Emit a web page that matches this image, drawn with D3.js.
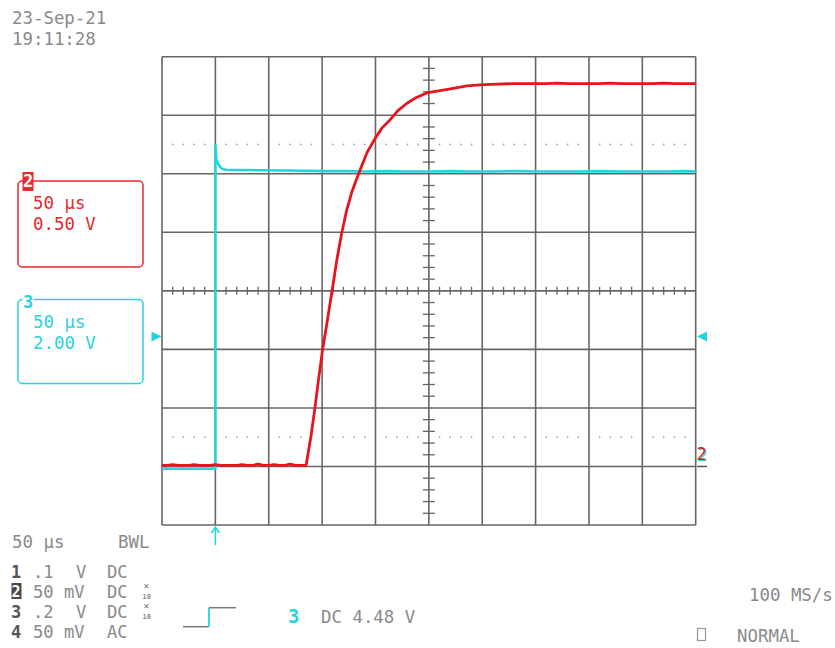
<!DOCTYPE html>
<html>
<head>
<meta charset="utf-8">
<script src="https://cdn.jsdelivr.net/npm/d3@7"></script>
<style>
  html, body { margin: 0; padding: 0; background: #fff; }
  svg { display: block; }
  text { font-family: "DejaVu Sans Mono", "Liberation Mono", monospace; }
</style>
</head>
<body>
<svg id="chart" width="835" height="648"></svg>
<script>
// ---------------- DATA ----------------
// Channel 2 (red), time in µs (trigger at 0), value in volts (0.50 V/div)
const ch2Time = [
  -50,-45,-40,-35,-30,-25,-20,-15,-10,-5,0,5,10,15,20,25,30,35,40,45,50,55,60,65,70,75,80,85,
  89.6,93.3,96.6,100.5,104.6,109.5,113.9,118.3,122.8,127.7,131.7,135.5,142,149.5,156,163.6,171,179.2,187.9,197.9,210.4,222.9,235.7,247.9,263.8,279,
  290,300,310,320,330,340,350,360,370,380,390,400,410,420,430,440,450
];
const ch2Volts = [
  0.01,0.01,0.015,0.01,0.01,0.01,0.015,0.01,0.01,0.01,0.015,0.01,0.01,0.01,0.01,0.015,0.01,0.01,0.02,0.01,0.01,0.015,0.01,0.01,0.02,0.01,0.01,0.01,
  0.26,0.50,0.74,1.00,1.23,1.51,1.77,1.99,2.18,2.34,2.44,2.53,2.68,2.80,2.89,2.96,3.04,3.10,3.15,3.19,3.21,3.23,3.25,3.26,3.265,3.27,
  3.27,3.27,3.27,3.275,3.27,3.27,3.27,3.27,3.275,3.27,3.27,3.27,3.27,3.275,3.27,3.27,3.27
];
// Channel 3 (cyan), 2.00 V/div
const ch3Time = [
  -50,-45,-40,-35,-30,-25,-20,-15,-10,-5,0,
  0,1,3,6,10,20,30,40,50,60,70,80,90,100,120,140,160,180,200,220,240,260,280,300,320,340,360,380,400,420,440,450
];
const ch3Volts = [
  -4.52,-4.51,-4.52,-4.52,-4.51,-4.52,-4.52,-4.52,-4.51,-4.52,-4.52,
  6.55,6.04,5.87,5.73,5.70,5.69,5.69,5.68,5.68,5.67,5.67,5.66,5.66,5.65,5.65,5.64,5.65,5.64,5.64,5.65,5.64,5.64,5.65,5.64,5.64,5.64,5.65,5.64,5.64,5.64,5.65,5.64
];
// Settings / labels
const dateLabels = ["23-Sep-21", "19:11:28"];
const ch2Box = ["50 µs", "0.50 V"];
const ch3Box = ["50 µs", "2.00 V"];
const chanNums = ["1", "2", "3", "4"];
const chanScale = [".1", "50", ".2", "50"];
const chanUnit = ["V", "mV", "V", "mV"];
const chanCoupling = ["DC", "DC", "DC", "AC"];
const chanProbe = [false, true, true, false];
const timebase = "50 µs";
const bwl = "BWL";
const trigText = ["3", "DC 4.48 V"];
const sampleRate = "100 MS/s";
const acqMode = "NORMAL";

// Scope settings
const timePerDiv = 50, ch2VPerDiv = 0.5, ch2Pos = -3, ch3VPerDiv = 2, ch3Pos = -0.78;

// ---------------- DRAW ----------------
const svg = d3.select("#chart");
svg.append("rect").attr("width", 835).attr("height", 648).attr("fill", "#fff");

const x = d3.scaleLinear().domain([-50, 450]).range([162, 695.7]);
const yDiv = d3.scaleLinear().domain([-4, 4]).range([525, 56.7]);
const y2 = v => yDiv(v / ch2VPerDiv + ch2Pos);
const y3 = v => yDiv(v / ch3VPerDiv + ch3Pos);

const gridCol = "#666", textCol = "#8a8a8a";
const red = "#e8141c", cyan = "#22d4e0";

const grid = svg.append("g");
const xMajors = d3.range(-50, 451, timePerDiv);
const yMajors = d3.range(-4, 4.01, 1);
// dotted lines at ±2.5 div
[2.5, -2.5].forEach(d => {
  d3.range(-50, 450, 10).forEach(t => {
    if (t % 50 === 0) return;
    grid.append("circle").attr("cx", x(t)).attr("cy", yDiv(d)).attr("r", 0.9).attr("fill", "#a8a8a8");
  });
});
grid.selectAll(".vl").data(xMajors).enter().append("line")
  .attr("x1", d => x(d)).attr("x2", d => x(d)).attr("y1", yDiv(4)).attr("y2", yDiv(-4))
  .attr("stroke", gridCol).attr("stroke-width", 1.6);
grid.selectAll(".hl").data(yMajors).enter().append("line")
  .attr("y1", d => yDiv(d)).attr("y2", d => yDiv(d)).attr("x1", x(-50)).attr("x2", x(450))
  .attr("stroke", gridCol).attr("stroke-width", 1.6);
// center minor ticks
d3.range(-50, 450, 10).forEach(t => {
  if (t % 50 === 0) return;
  grid.append("line").attr("x1", x(t)).attr("x2", x(t)).attr("y1", yDiv(0) - 4).attr("y2", yDiv(0) + 4)
    .attr("stroke", gridCol).attr("stroke-width", 1.3);
});
d3.range(-4, 4, 0.2).forEach(d => {
  if (Math.abs(d - Math.round(d)) < 1e-6) return;
  grid.append("line").attr("y1", yDiv(d)).attr("y2", yDiv(d)).attr("x1", x(200) - 6).attr("x2", x(200) + 6)
    .attr("stroke", gridCol).attr("stroke-width", 1.3);
});

// traces
const line3 = d3.line().x((d, i) => x(ch3Time[i])).y((d, i) => y3(ch3Volts[i]));
const line2 = d3.line().x((d, i) => x(ch2Time[i])).y((d, i) => y2(ch2Volts[i]));
svg.append("path").attr("d", line3(ch3Time)).attr("fill", "none").attr("stroke", cyan).attr("stroke-width", 2.6).attr("stroke-linejoin", "round");
svg.append("path").attr("d", line2(ch2Time)).attr("fill", "none").attr("stroke", red).attr("stroke-width", 2.8).attr("stroke-linejoin", "round");

// ground markers
const g3y = y3(0);
svg.append("path").attr("d", `M151.5,${g3y - 5}L161.5,${g3y}L151.5,${g3y + 5}Z`).attr("fill", cyan);
svg.append("path").attr("d", `M707,${g3y - 5}L697,${g3y}L707,${g3y + 5}Z`).attr("fill", cyan);
const g2y = y2(0);
svg.append("line").attr("x1", 697).attr("x2", 707).attr("y1", g2y).attr("y2", g2y).attr("stroke", "#555").attr("stroke-width", 1.5);
svg.append("text").attr("x", 697.5).attr("y", g2y - 5).attr("font-size", 17).attr("fill", cyan).text("2");
svg.append("text").attr("x", 696.5).attr("y", g2y - 6).attr("font-size", 17).attr("fill", red).text("2");

// trigger arrow
svg.append("line").attr("x1", x(0)).attr("x2", x(0)).attr("y1", 528).attr("y2", 545).attr("stroke", cyan).attr("stroke-width", 1.5);
svg.append("path").attr("d", `M${x(0) - 4},533L${x(0)},527L${x(0) + 4},533`).attr("fill", "none").attr("stroke", cyan).attr("stroke-width", 1.5);

// date
svg.append("text").attr("x", 12).attr("y", 24).attr("font-size", 17.4).attr("fill", textCol).text(dateLabels[0]);
svg.append("text").attr("x", 12).attr("y", 45).attr("font-size", 17.4).attr("fill", textCol).text(dateLabels[1]);

// channel boxes
function chBox(y0, h, col, lines, num, filled) {
  svg.append("rect").attr("x", 18).attr("y", y0).attr("width", 125).attr("height", h).attr("rx", 4)
    .attr("fill", "none").attr("stroke", col).attr("stroke-width", 1.5);
  if (filled) {
    svg.append("rect").attr("x", 22.5).attr("y", y0 - 9).attr("width", 11).attr("height", 19).attr("fill", col);
    svg.append("text").attr("x", 23).attr("y", y0 + 6).attr("font-size", 17).attr("font-weight", "bold").attr("fill", "#fff").text(num);
  } else {
    svg.append("rect").attr("x", 22.5).attr("y", y0 - 3).attr("width", 11).attr("height", 6).attr("fill", "#fff");
    svg.append("text").attr("x", 23).attr("y", y0 + 8).attr("font-size", 17).attr("font-weight", "bold").attr("fill", col).text(num);
  }
  svg.append("text").attr("x", 33).attr("y", y0 + 28).attr("font-size", 17.4).attr("fill", col).text(lines[0]);
  svg.append("text").attr("x", 33).attr("y", y0 + 49).attr("font-size", 17.4).attr("fill", col).text(lines[1]);
}
chBox(181, 86, "#e8282e", ch2Box, "2", true);
chBox(299.5, 84, "#2ad2e0", ch3Box, "3", false);

// bottom-left settings
svg.append("text").attr("x", 12).attr("y", 548).attr("font-size", 17.4).attr("fill", textCol).text(timebase);
svg.append("text").attr("x", 118).attr("y", 548).attr("font-size", 17.4).attr("fill", textCol).text(bwl);
chanNums.forEach((n, i) => {
  const by = 578 + i * 20;
  if (i === 1) {
    svg.append("rect").attr("x", 11.5).attr("y", by - 15).attr("width", 10).attr("height", 16).attr("fill", "#4a4a4a");
    svg.append("text").attr("x", 11.5).attr("y", by - 1).attr("font-size", 15).attr("font-weight", "bold").attr("fill", "#fff").text(n);
  } else {
    svg.append("text").attr("x", 11).attr("y", by).attr("font-size", 17).attr("font-weight", "bold").attr("fill", "#555").text(n);
  }
  svg.append("text").attr("x", 33).attr("y", by).attr("font-size", 17.2).attr("fill", textCol).text(chanScale[i]);
  svg.append("text").attr("x", chanUnit[i] === "V" ? 76 : 64).attr("y", by).attr("font-size", 17.2).attr("fill", textCol).text(chanUnit[i]);
  svg.append("text").attr("x", 107).attr("y", by).attr("font-size", 17.2).attr("fill", textCol).text(chanCoupling[i]);
  if (chanProbe[i]) {
    svg.append("text").attr("x", 143.5).attr("y", by - 9).attr("font-size", 9.5).attr("font-weight", "bold").attr("fill", textCol).text("×");
    svg.append("text").attr("x", 142.5).attr("y", by + 1).attr("font-size", 7).attr("font-weight", "bold").attr("fill", textCol).text("10");
  }
});

// trigger step icon
svg.append("path").attr("d", "M183,626.7H209").attr("stroke", "#7a7a7a").attr("stroke-width", 1.5);
svg.append("path").attr("d", "M209,626.7V607.7").attr("stroke", cyan).attr("stroke-width", 1.8);
svg.append("path").attr("d", "M209,607.7H236").attr("stroke", "#7a7a7a").attr("stroke-width", 1.5);
svg.append("text").attr("x", 288).attr("y", 623).attr("font-size", 19).attr("font-weight", "bold").attr("fill", cyan).text(trigText[0]);
svg.append("text").attr("x", 321).attr("y", 623).attr("font-size", 17.4).attr("fill", textCol).text(trigText[1]);

// right side
svg.append("text").attr("x", 749).attr("y", 601).attr("font-size", 17.4).attr("fill", textCol).text(sampleRate);
svg.append("rect").attr("x", 697.5).attr("y", 628.5).attr("width", 8).attr("height", 12).attr("fill", "none").attr("stroke", "#999").attr("stroke-width", 1.2);
svg.append("text").attr("x", 737).attr("y", 642).attr("font-size", 17.4).attr("fill", textCol).text(acqMode);
</script>
</body>
</html>
